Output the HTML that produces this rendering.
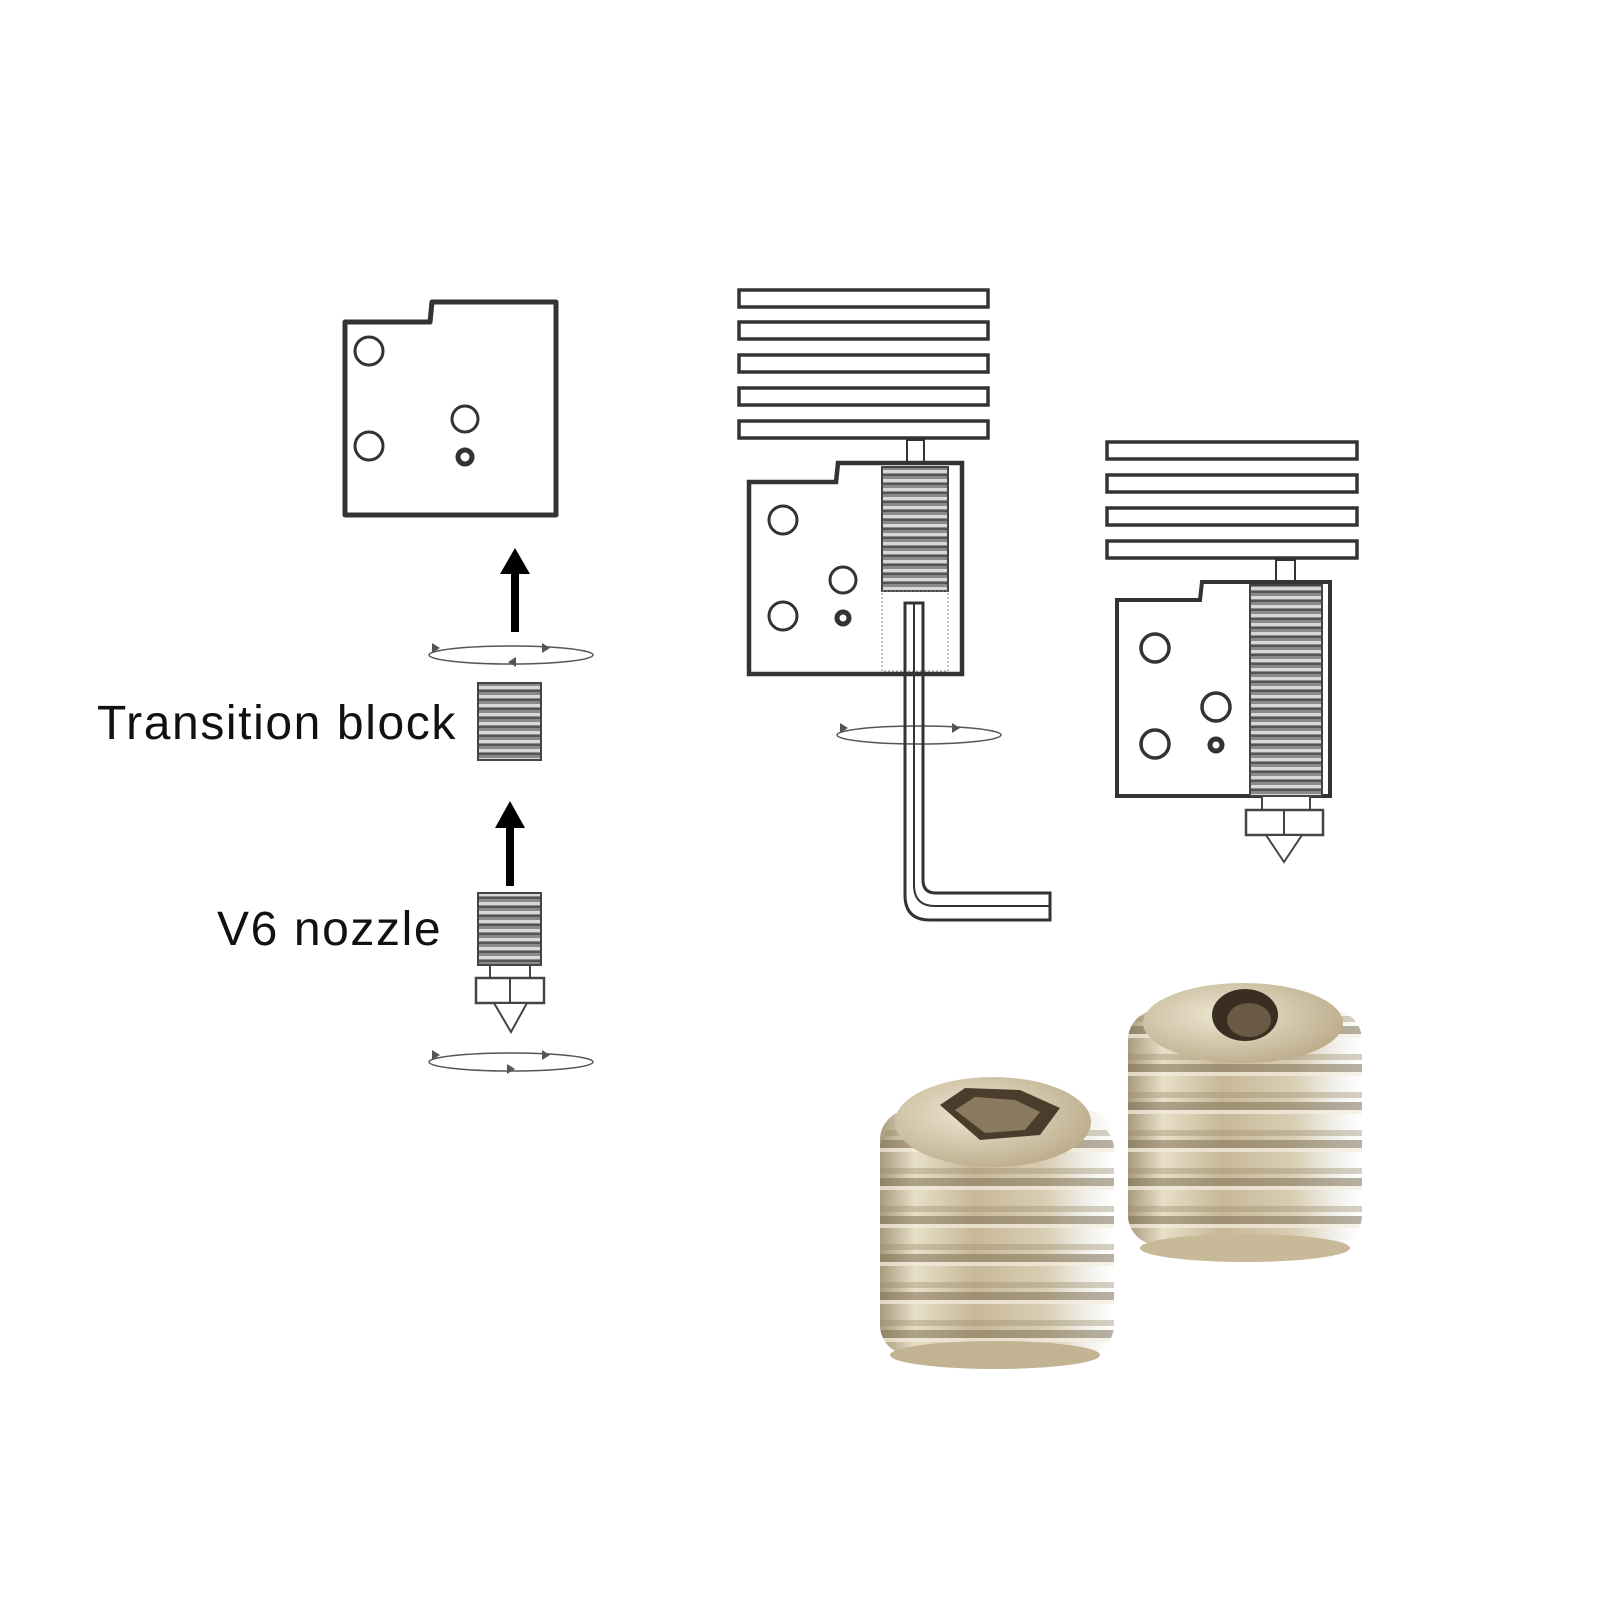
<!DOCTYPE html>
<html><head><meta charset="utf-8"><style>
html,body{margin:0;padding:0;background:#fff;}
svg{display:block;}
</style></head><body>
<svg width="1600" height="1600" viewBox="0 0 1600 1600" xmlns="http://www.w3.org/2000/svg">
<defs>
<pattern id="thr" width="10" height="9" patternUnits="userSpaceOnUse">
<rect width="10" height="9" fill="#8a8a8a"/>
<rect y="2" width="10" height="3" fill="#d8d8d8"/>
<rect y="6" width="10" height="2" fill="#555"/>
</pattern>
<linearGradient id="metal" x1="0" x2="1" y1="0" y2="0">
<stop offset="0" stop-color="#a89a7c"/>
<stop offset="0.15" stop-color="#e8dfc8"/>
<stop offset="0.4" stop-color="#c7b898"/>
<stop offset="0.7" stop-color="#d9cdb2"/>
<stop offset="0.9" stop-color="#f2f2ee"/>
<stop offset="1" stop-color="#ffffff"/>
</linearGradient>
<pattern id="ridge" width="10" height="38" patternUnits="userSpaceOnUse">
<rect width="10" height="38" fill="none"/>
<rect y="0" width="10" height="8" fill="#7d6f55" opacity="0.55"/>
<rect y="8" width="10" height="4" fill="#f5efe0" opacity="0.7"/>
<rect y="28" width="10" height="6" fill="#9a8b6e" opacity="0.4"/>
</pattern>
<radialGradient id="top" cx="0.4" cy="0.4" r="0.7">
<stop offset="0" stop-color="#eee6d2"/>
<stop offset="1" stop-color="#b8a886"/>
</radialGradient>
</defs>
<g fill="none" stroke="#333" stroke-width="5" stroke-linejoin="round">
<path d="M345,322 L430,322 L432,302 L556,302 L556,515 L345,515 Z"/>
<circle cx="369" cy="351" r="14" stroke-width="3"/>
<circle cx="369" cy="446" r="14" stroke-width="3"/>
<circle cx="465" cy="419" r="13" stroke-width="3"/>
<circle cx="465" cy="457" r="7" stroke-width="5"/>
</g>
<g fill="#000">
<rect x="511" y="572" width="8" height="60"/>
<polygon points="515,548 500,574 530,574"/>
<rect x="506" y="826" width="8" height="60"/>
<polygon points="510,801 495,828 525,828"/>
</g>
<g fill="none" stroke="#555" stroke-width="1.5">
<ellipse cx="511" cy="655" rx="82" ry="9"/>
<ellipse cx="511" cy="1062" rx="82" ry="9"/>
<ellipse cx="919" cy="735" rx="82" ry="9"/>
</g>
<g fill="#555">
<polygon points="440,648 432,643 432,653"/>
<polygon points="550,648 542,643 542,653"/>
<polygon points="508,662 516,657 516,667"/>
<polygon points="440,1055 432,1050 432,1060"/>
<polygon points="550,1055 542,1050 542,1060"/>
<polygon points="515,1069 507,1064 507,1074"/>
<polygon points="848,728 840,723 840,733"/>
<polygon points="960,728 952,723 952,733"/>
</g>
<rect x="478" y="683" width="63" height="77" fill="url(#thr)" stroke="#444" stroke-width="2"/>
<rect x="478" y="893" width="63" height="72" fill="url(#thr)" stroke="#444" stroke-width="2"/>
<rect x="490" y="965" width="40" height="13" fill="#fff" stroke="#444" stroke-width="2"/>
<rect x="476" y="978" width="68" height="25" fill="#fff" stroke="#444" stroke-width="2.5"/>
<line x1="510" y1="978" x2="510" y2="1003" stroke="#444" stroke-width="2"/>
<polygon points="494,1003 527,1003 511,1032" fill="#fff" stroke="#444" stroke-width="2"/>
<text x="97" y="739" font-family="Liberation Sans, sans-serif" font-size="48" letter-spacing="1.6" fill="#111">Transition block</text>
<text x="217" y="945" font-family="Liberation Sans, sans-serif" font-size="48" letter-spacing="1.6" fill="#111">V6 nozzle</text>
<g fill="#fff" stroke="#333" stroke-width="3.5">
<rect x="739" y="290" width="249" height="17"/>
<rect x="739" y="322" width="249" height="17"/>
<rect x="739" y="355" width="249" height="17"/>
<rect x="739" y="388" width="249" height="17"/>
<rect x="739" y="421" width="249" height="17"/>
<rect x="907" y="440" width="17" height="22" stroke-width="2"/>
<path d="M749,482 L836,482 L838,463 L962,463 L962,674 L749,674 Z" stroke-width="4.5"/>
<circle cx="783" cy="520" r="14" stroke-width="3"/>
<circle cx="783" cy="616" r="14" stroke-width="3"/>
<circle cx="843" cy="580" r="13" stroke-width="3"/>
<circle cx="843" cy="618" r="6" stroke-width="5"/>
</g>
<rect x="882" y="467" width="66" height="124" fill="url(#thr)" stroke="#444" stroke-width="2"/>
<rect x="882" y="591" width="66" height="80" fill="none" stroke="#888" stroke-width="1" stroke-dasharray="2,2"/>
<path d="M905,603 L923,603 L923,880 Q923,893 936,893 L1050,893 L1050,920 L930,920 Q905,920 905,895 Z" fill="none" stroke="#333" stroke-width="3"/>
<path d="M914,603 L914,885 Q914,906 935,906 L1050,906" fill="none" stroke="#333" stroke-width="2"/>
<g fill="#fff" stroke="#333" stroke-width="3.5">
<rect x="1107" y="442" width="250" height="17"/>
<rect x="1107" y="475" width="250" height="17"/>
<rect x="1107" y="508" width="250" height="17"/>
<rect x="1107" y="541" width="250" height="17"/>
<rect x="1276" y="560" width="19" height="22" stroke-width="2"/>
<path d="M1117,600 L1200,600 L1202,582 L1330,582 L1330,796 L1117,796 Z" stroke-width="4"/>
<circle cx="1155" cy="648" r="14" stroke-width="3.5"/>
<circle cx="1155" cy="744" r="14" stroke-width="3.5"/>
<circle cx="1216" cy="707" r="14" stroke-width="3.5"/>
<circle cx="1216" cy="745" r="6" stroke-width="5"/>
</g>
<rect x="1250" y="585" width="72" height="211" fill="url(#thr)" stroke="#444" stroke-width="2"/>
<rect x="1262" y="796" width="48" height="14" fill="#fff" stroke="#444" stroke-width="2"/>
<rect x="1246" y="810" width="77" height="25" fill="#fff" stroke="#444" stroke-width="2.5"/>
<line x1="1284" y1="810" x2="1284" y2="835" stroke="#444" stroke-width="2"/>
<polygon points="1266,835 1302,835 1284,862" fill="#fff" stroke="#444" stroke-width="2"/>
<g>
<rect x="1128" y="1010" width="234" height="235" rx="30" fill="url(#metal)"/>
<rect x="1128" y="1010" width="234" height="235" rx="30" fill="url(#ridge)"/>
<ellipse cx="1245" cy="1248" rx="105" ry="14" fill="#c8b998"/>
<ellipse cx="1243" cy="1023" rx="100" ry="40" fill="url(#top)"/>
<ellipse cx="1245" cy="1015" rx="33" ry="26" fill="#3a2e22"/>
<ellipse cx="1249" cy="1020" rx="22" ry="17" fill="#6a5a44"/>
</g>
<g>
<rect x="880" y="1110" width="234" height="245" rx="30" fill="url(#metal)"/>
<rect x="880" y="1120" width="234" height="235" rx="30" fill="url(#ridge)"/>
<ellipse cx="995" cy="1355" rx="105" ry="14" fill="#c2b393"/>
<ellipse cx="993" cy="1122" rx="98" ry="45" fill="url(#top)"/>
<polygon points="940,1105 965,1088 1020,1090 1060,1108 1040,1135 980,1140" fill="#4a3d2c"/>
<polygon points="955,1110 975,1097 1015,1100 1040,1112 1025,1130 985,1133" fill="#8a7a60"/>
</g>
</svg>
</body></html>
